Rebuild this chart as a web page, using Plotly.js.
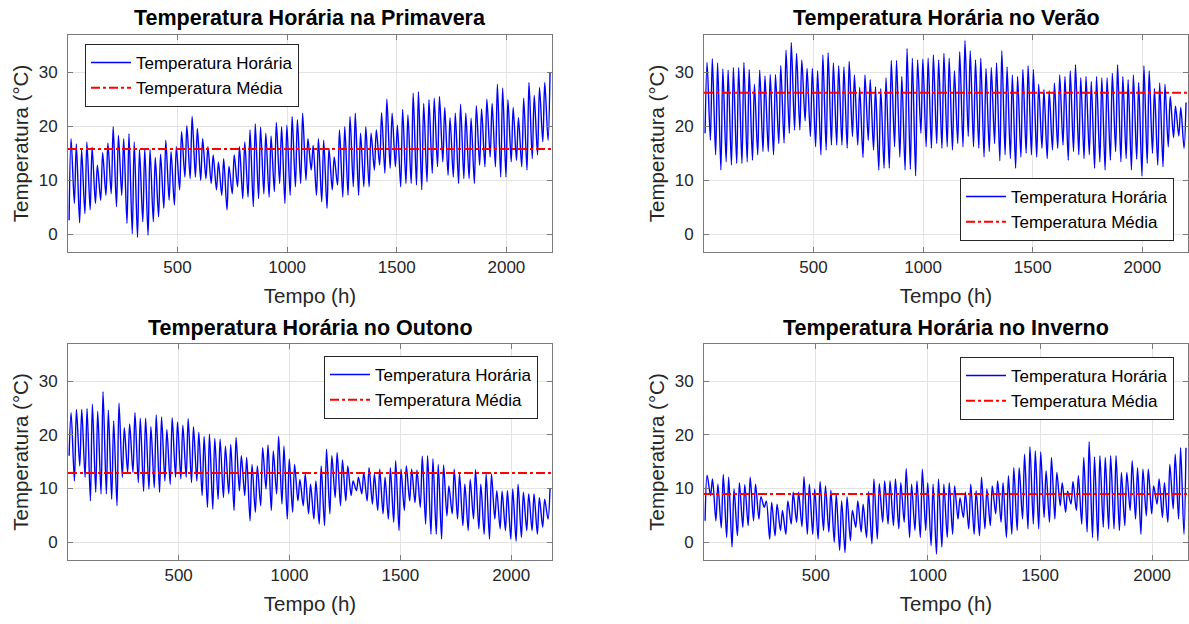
<!DOCTYPE html>
<html><head><meta charset="utf-8">
<script src="https://cdn.plot.ly/plotly-3.0.1.min.js"></script>
<style>html,body{margin:0;padding:0;background:#fff;} #chart{width:1189px;height:624px;}</style>
</head><body><div id="chart"></div>
<script>
// ---------- DATA (daily minimum and maximum, °C) ----------
const titles = ['Temperatura Horária na Primavera', 'Temperatura Horária no Verão',
                'Temperatura Horária no Outono', 'Temperatura Horária no Inverno'];
const seriesNames = ['Temperatura Horária', 'Temperatura Média'];
const seasonHours = [2208, 2208, 2184, 2160];
const meanTemp = [15.8, 26.2, 12.9, 9.0];
const xTicks = [500, 1000, 1500, 2000];
const yTicks = [0, 10, 20, 30];
const minHour = 5, maxHour = 14;

const primaveraMax = [17.7,16.7,15.6,17.1,16.1,12.8,15.1,16.9,19.9,18.3,17.7,18.6,17.1,15.7,15.8,15.7,14.2,14.8,17.4,15.3,16.2,19.0,20.1,21.8,19.6,17.7,16.2,14.7,13.4,14.0,12.6,
  14.7,16.2,17.1,19.3,20.4,19.8,18.7,18.2,20.7,19.9,20.2,21.8,21.2,22.4,17.7,16.5,17.7,17.4,15.9,14.3,19.3,19.9,21.8,22.4,18.7,19.9,18.7,19.3,22.5,25.0,22.4,
  20.2,23.1,22.1,26.1,26.4,24.2,24.9,25.2,25.5,23.5,21.6,22.4,24.1,22.4,21.5,23.8,23.2,25.0,24.2,27.8,27.1,24.9,23.5,21.6,25.2,28.1,25.7,27.2,28.1,30.0];
const primaveraMin = [2.6,5.7,2.1,3.8,4.5,5.7,6.3,7.2,7.5,5.1,7.2,2.0,0.1,-0.6,2.3,-0.2,2.3,3.2,4.8,6.3,5.4,8.2,10.6,10.3,10.6,10.0,10.3,9.4,8.2,7.2,4.5,
  7.5,8.8,6.6,6.9,5.1,6.6,7.5,6.9,7.9,9.4,5.7,7.2,8.8,9.4,10.0,11.9,7.2,6.0,4.8,8.2,9.1,6.9,7.2,8.8,7.2,8.8,8.8,11.9,12.8,11.3,12.2,
  12.5,8.8,9.4,9.4,9.1,8.2,9.7,11.3,12.5,13.4,10.9,10.6,9.4,10.3,10.3,9.4,12.8,12.5,14.3,12.5,10.6,10.6,13.4,13.7,12.5,11.9,14.0,14.7,17.1,17.4];

const veraoMax = [31.8,32.5,31.7,30.6,30.4,30.9,30.9,31.8,30.5,27.8,30.4,29.3,29.6,29.6,31.2,34.1,35.5,33.5,32.3,30.7,30.7,30.3,33.2,33.6,31.7,31.2,
  31.0,32.0,29.5,27.2,29.5,28.6,27.3,27.0,29.0,32.2,32.2,29.2,34.4,32.6,32.3,32.4,32.6,33.2,32.3,33.5,32.6,30.3,33.8,35.9,34.0,32.3,32.6,30.7,30.9,31.7,34.0,31.0,
  29.5,29.2,30.5,31.2,30.5,27.8,26.8,26.6,28.0,29.5,29.2,30.3,31.4,29.0,29.2,28.3,29.2,29.0,29.0,29.8,31.4,29.2,28.6,29.5,28.1,31.2,30.3,27.0,28.0,27.8,25.5,23.7,23.5,24.4];
const veraoMin = [18.7,17.4,14.7,11.9,13.4,12.8,13.1,13.1,13.4,13.7,14.7,15.3,15.3,14.7,16.8,16.9,18.7,19.3,19.3,21.0,18.1,16.2,14.7,15.6,16.5,16.5,
  16.5,15.9,18.1,16.5,14.2,17.4,15.6,11.9,12.2,12.2,16.2,14.3,11.9,12.0,10.8,18.7,16.2,15.9,16.8,15.9,16.2,15.6,16.8,16.2,18.1,16.2,15.9,14.3,15.3,16.8,13.6,14.7,
  14.0,12.2,14.3,15.0,14.7,14.3,15.9,14.0,15.6,15.9,16.5,13.7,15.3,14.7,14.0,14.7,12.2,13.4,11.9,13.7,15.3,13.4,14.0,11.9,13.9,10.8,13.1,15.0,12.8,12.5,16.2,17.9,18.2,15.9];

const outonoMax = [24.1,24.7,24.7,24.9,25.7,24.4,28.0,24.6,22.6,25.9,21.3,22.0,24.1,23.1,23.1,21.5,23.7,23.3,21.0,23.2,22.4,21.8,23.0,21.5,20.5,19.7,20.1,19.3,19.2,17.9,
  18.2,19.5,16.1,15.8,14.5,14.2,17.6,18.1,17.0,19.7,17.9,15.5,14.5,11.7,12.7,10.8,11.4,14.2,17.3,16.1,16.7,15.3,14.2,11.4,12.1,13.0,13.9,12.7,13.6,12.1,13.9,
  15.2,13.6,14.2,13.6,13.4,16.0,16.1,15.5,14.5,14.4,10.5,13.6,12.7,10.8,11.7,13.5,10.8,12.7,12.7,9.6,9.5,9.6,9.9,10.8,9.3,9.0,9.0,8.3,8.0,9.9];
const outonoMin = [16.1,11.4,14.2,12.1,7.7,9.3,9.0,9.0,8.0,6.8,12.1,13.0,13.0,11.1,9.5,9.9,10.2,9.3,11.4,10.8,12.1,11.8,12.1,11.1,11.4,8.7,6.5,6.2,8.0,8.3,
  9.0,5.9,9.6,8.7,4.0,5.6,6.8,9.9,5.9,9.0,7.1,4.3,5.6,7.7,6.8,5.3,4.3,3.4,3.1,5.3,8.3,6.8,7.7,8.7,9.6,9.0,7.7,7.1,5.9,5.3,4.3,3.7,
  2.2,5.9,7.7,7.4,6.5,3.4,1.5,1.5,0.6,4.9,5.3,4.3,3.1,2.2,4.3,2.5,1.5,0.6,4.3,2.5,2.2,0.6,0.2,0.9,2.2,2.2,1.5,2.8,4.3];

const invernoMax = [12.5,11.8,10.8,12.6,12.1,9.9,11.1,10.7,12.1,10.8,8.5,7.7,7.4,7.1,5.9,7.7,9.3,9.3,12.2,10.8,9.9,11.3,10.5,9.7,9.0,7.7,
  8.5,5.9,7.7,7.1,9.4,11.8,10.9,11.4,11.4,11.8,11.1,13.7,10.8,11.4,13.6,11.1,10.8,11.8,10.8,11.1,10.5,8.3,9.3,10.8,9.6,12.1,9.9,10.5,11.4,11.1,12.4,13.9,
  13.9,16.4,17.8,17.0,16.8,13.3,15.8,13.0,11.1,9.5,11.3,12.4,15.8,18.7,15.9,16.1,15.8,16.1,16.1,13.0,13.0,15.2,13.9,13.6,13.6,10.5,11.8,11.1,14.5,16.4,17.6,17.6];
const invernoMin = [4.0,8.7,4.0,2.7,0.9,-0.9,1.2,2.8,3.1,4.0,4.3,6.5,0.6,1.2,2.2,1.5,3.4,3.7,2.9,1.5,1.5,0.6,2.2,1.9,0.0,-1.5,
  -1.9,0.3,2.8,1.9,0.9,-0.3,0.6,3.7,3.4,3.1,2.5,3.7,0.9,2.2,0.9,2.2,-0.6,-2.2,-0.9,0.9,1.5,4.3,4.6,2.5,1.5,1.2,2.5,3.1,5.3,3.7,0.9,1.5,
  2.2,4.3,2.5,3.4,2.5,4.6,3.7,4.3,6.8,5.6,7.1,5.9,3.4,1.9,0.9,0.3,2.8,2.5,2.5,2.2,3.1,5.9,4.3,1.5,4.9,5.3,7.1,4.6,3.7,6.2,4.3,1.5];

const dailyMin = [primaveraMin, veraoMin, outonoMin, invernoMin];
const dailyMax = [primaveraMax, veraoMax, outonoMax, invernoMax];

// ---------- LAYOUT ----------
const W = 1189, H = 624;
const colPx = [[68, 552], [704, 1188]];
const rowPx = [[35, 252], [344, 560]];
const yRange = [-3.3, 36.9];
const FONT = 'Liberation Sans, Arial, Helvetica, sans-serif';
const TXT = '#262626';

const legendPos = [
  {x: 85/W, y: 1 - 44/H, xanchor: 'left', yanchor: 'top'},
  {x: 1174/W, y: 1 - 241/H, xanchor: 'right', yanchor: 'bottom'},
  {x: 538/W, y: 1 - 356/H, xanchor: 'right', yanchor: 'top'},
  {x: 1174/W, y: 1 - 357/H, xanchor: 'right', yanchor: 'top'}
];

const traces = [];
const layout = {
  width: W, height: H, margin: {l: 0, r: 0, t: 0, b: 0},
  paper_bgcolor: '#fff', plot_bgcolor: '#fff',
  font: {family: FONT, color: TXT},
  showlegend: true, annotations: []
};

for (let i = 0; i < 4; i++) {
  const col = i % 2, row = Math.floor(i / 2);
  const n = i + 1;
  const xa = n === 1 ? 'x' : 'x' + n, ya = n === 1 ? 'y' : 'y' + n;
  const lg = n === 1 ? 'legend' : 'legend' + n;
  const xd = [colPx[col][0] / W, colPx[col][1] / W];
  const yd = [1 - rowPx[row][1] / H, 1 - rowPx[row][0] / H];

  const hx = [], hy = [];
  for (let d = 0; d < dailyMin[i].length; d++) {
    hx.push(1 + 24 * d + minHour); hy.push(dailyMin[i][d]);
    hx.push(1 + 24 * d + maxHour); hy.push(dailyMax[i][d]);
  }
  traces.push({
    type: 'scatter', mode: 'lines', x: hx, y: hy, xaxis: xa, yaxis: ya, legend: lg,
    name: seriesNames[0], line: {color: '#0000ff', width: 1.4, shape: 'spline', smoothing: 0.9},
    hoverinfo: 'skip'
  });
  traces.push({
    type: 'scatter', mode: 'lines', x: [1, seasonHours[i]], y: [meanTemp[i], meanTemp[i]],
    xaxis: xa, yaxis: ya, legend: lg, name: seriesNames[1],
    line: {color: '#ff0000', width: 2, dash: 'dashdot'}, hoverinfo: 'skip'
  });

  const axCommon = {
    showline: true, linecolor: '#7a7a7a', linewidth: 1, mirror: 'ticks',
    ticks: 'inside', ticklen: 5, tickcolor: '#7a7a7a',
    showgrid: true, gridcolor: '#e3e3e3', gridwidth: 1, zeroline: false,
    tickfont: {family: FONT, size: 17, color: TXT}
  };
  layout['xaxis' + (n === 1 ? '' : n)] = Object.assign({}, axCommon, {
    domain: xd, anchor: ya, range: [1, seasonHours[i]], tickvals: xTicks,
    title: {text: 'Tempo (h)', font: {family: FONT, size: 20.5, color: TXT}, standoff: 12}
  });
  layout['yaxis' + (n === 1 ? '' : n)] = Object.assign({}, axCommon, {
    domain: yd, anchor: xa, range: yRange, tickvals: yTicks, ticklabelstandoff: 6,
    title: {text: 'Temperatura (°C)', font: {family: FONT, size: 20.5, color: TXT}, standoff: 4}
  });
  layout[lg] = Object.assign({}, legendPos[i], {
    bgcolor: '#ffffff', bordercolor: '#262626', borderwidth: 1,
    font: {family: FONT, size: 17, color: '#000'}, tracegroupgap: 0, itemwidth: 40
  });
  layout.annotations.push({
    text: '<b>' + titles[i] + '</b>', xref: 'paper', yref: 'paper',
    x: (xd[0] + xd[1]) / 2, y: 1 - (row === 0 ? 18 : 328) / H,
    xanchor: 'center', yanchor: 'middle', showarrow: false,
    font: {family: FONT, size: 21.5, color: '#000'}
  });
}

Plotly.newPlot('chart', traces, layout, {displayModeBar: false, staticPlot: true});
</script>
</body></html>
